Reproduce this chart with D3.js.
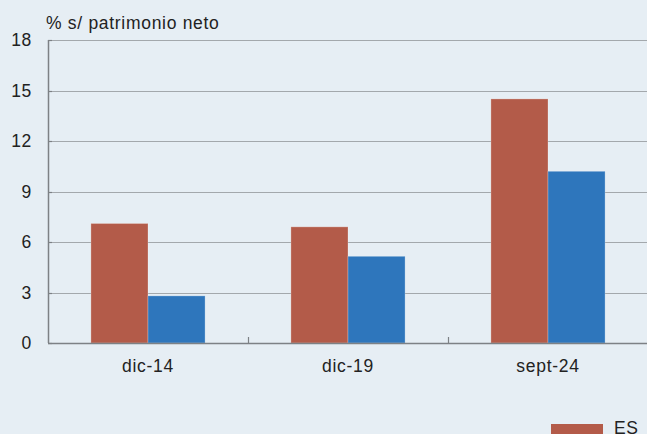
<!DOCTYPE html>
<html>
<head>
<meta charset="utf-8">
<script src="https://cdn.jsdelivr.net/npm/d3@7"></script>
<style>
  html, body { margin: 0; padding: 0; background: #e6eef4; }
  svg { display: block; }
  text { font-family: "Liberation Sans", Arial, Helvetica, sans-serif; fill: #222; font-size: 17.5px; letter-spacing: 0.7px; }
</style>
</head>
<body>
<svg id="chart" width="647" height="434"></svg>
<script>
// Return on equity by period, two series
const categories = ["dic-14", "dic-19", "sept-24"];
const seriesNames = ["ES", "UEM"];
const esValues = [7.1, 6.9, 14.5];
const uemValues = [2.8, 5.15, 10.2];
const yTicks = [0, 3, 6, 9, 12, 15, 18];
const yTitle = "% s/ patrimonio neto";

const colors = ["#b35b49", "#2e76bc"];
const W = 647, H = 434;
const margin = { left: 48, right: -1, top: 40, bottom: 91 };

const svg = d3.select("#chart");
svg.append("rect").attr("width", W).attr("height", H).attr("fill", "#e6eef4");

const x = d3.scaleBand()
  .domain(categories)
  .range([margin.left, W - margin.right])
  .paddingInner(0).paddingOuter(0);

const x1 = d3.scaleBand()
  .domain(seriesNames)
  .range([0, x.bandwidth()])
  .paddingInner(0)
  .paddingOuter(0.752);

const y = d3.scaleLinear()
  .domain([0, 18])
  .range([H - margin.bottom, margin.top]);

// horizontal gridlines
svg.append("g")
  .selectAll("line")
  .data(yTicks.filter(d => d > 0))
  .join("line")
  .attr("x1", margin.left).attr("x2", W)
  .attr("y1", d => Math.round(y(d)) + 0.5).attr("y2", d => Math.round(y(d)) + 0.5)
  .attr("stroke", "#a3a8ac").attr("stroke-width", 1.2);

// y tick labels
svg.append("g")
  .selectAll("text")
  .data(yTicks)
  .join("text")
  .attr("x", 32)
  .attr("y", d => y(d))
  .attr("dy", "0.36em")
  .attr("text-anchor", "end")
  .text(d => d);

// bars
const rows = categories.map((c, i) => ({ cat: c, vals: [esValues[i], uemValues[i]] }));
const groups = svg.append("g")
  .selectAll("g")
  .data(rows)
  .join("g")
  .attr("transform", d => `translate(${x(d.cat)},0)`);

groups.selectAll("rect")
  .data(d => d.vals.map((v, j) => ({ name: seriesNames[j], v, j })))
  .join("rect")
  .attr("x", d => x1(d.name))
  .attr("width", x1.bandwidth())
  .attr("y", d => y(d.v))
  .attr("height", d => y(0) - y(d.v))
  .attr("fill", d => colors[d.j])
  .attr("stroke", "rgba(255,255,255,0.25)")
  .attr("stroke-width", 1);

// y axis line
svg.append("line")
  .attr("x1", margin.left + 0.5).attr("x2", margin.left + 0.5)
  .attr("y1", y(18)).attr("y2", y(0))
  .attr("stroke", "#7d8185").attr("stroke-width", 1.5);

// y axis small ticks
svg.append("g")
  .selectAll("line")
  .data(yTicks)
  .join("line")
  .attr("x1", margin.left).attr("x2", margin.left + 4)
  .attr("y1", d => Math.round(y(d)) + 0.5).attr("y2", d => Math.round(y(d)) + 0.5)
  .attr("stroke", "#7d8185").attr("stroke-width", 1.2);

// x axis line
svg.append("line")
  .attr("x1", margin.left).attr("x2", W)
  .attr("y1", y(0) + 0.5).attr("y2", y(0) + 0.5)
  .attr("stroke", "#7d8185").attr("stroke-width", 1.5);

// category separator ticks
svg.append("g")
  .selectAll("line")
  .data(categories.slice(1))
  .join("line")
  .attr("x1", d => Math.round(x(d)) + 0.5).attr("x2", d => Math.round(x(d)) + 0.5)
  .attr("y1", y(0) - 6).attr("y2", y(0))
  .attr("stroke", "#7d8185").attr("stroke-width", 1.2);

// category labels
svg.append("g")
  .selectAll("text")
  .data(categories)
  .join("text")
  .attr("x", d => x(d) + x.bandwidth() / 2)
  .attr("y", 372)
  .attr("text-anchor", "middle")
  .text(d => d);

// axis title
svg.append("text")
  .attr("x", 46).attr("y", 29)
  .text(yTitle);

// legend (only the first entry fits above the bottom edge)
const legend = svg.append("g")
  .selectAll("g")
  .data(seriesNames.slice(0, 1))
  .join("g")
  .attr("transform", "translate(551, 424)");
legend.append("rect")
  .attr("width", 52).attr("height", 12)
  .attr("fill", (d, i) => colors[i]);
legend.append("text")
  .attr("x", 63).attr("y", 9.5)
  .text(d => d);
</script>
</body>
</html>
